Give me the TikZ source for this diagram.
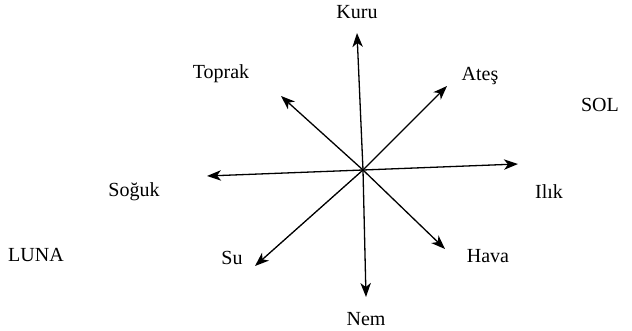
\documentclass[tikz,border=0pt]{standalone}
\usepackage{fontspec}
\setmainfont{Liberation Serif}
\usetikzlibrary{arrows.meta}
\begin{document}
\begin{tikzpicture}[x=0.5pt,y=-0.5pt,
  lbl/.style={inner sep=0pt,font=\fontsize{10}{12}\selectfont},
  arr/.style={-{Stealth[length=7pt,width=5.2pt,inset=2pt]},line width=0.65pt}]
\path[use as bounding box] (0,0) rectangle (632,331);
\coordinate (c) at (363,170);
\coordinate (tK) at (357,33);
\coordinate (tN) at (366,297);
\coordinate (tT) at (281,96);
\coordinate (tH) at (445,249);
\coordinate (tA) at (447,86);
\coordinate (tS) at (255,266);
\coordinate (tG) at (207,176);
\coordinate (tI) at (518,164);
\node[lbl] (kuru) at (357,12) {Kuru};
\node[lbl] (toprak) at (221,74) {Toprak};
\node[lbl] (ates) at (480,76) {Ateş};
\node[lbl] (sol) at (600,105) {SOL};
\node[lbl] (soguk) at (134,192) {Soğuk};
\node[lbl] (ilik) at (549,192) {Ilık};
\node[lbl] (luna) at (36,255) {LUNA};
\node[lbl] (su) at (232,258) {Su};
\node[lbl] (hava) at (488,256) {Hava};
\node[lbl] (nem) at (366,319) {Nem};
\foreach \t in {tK,tN,tT,tH,tA,tS,tG,tI}
  \draw[arr] (c) -- (\t);
\end{tikzpicture}
\end{document}
